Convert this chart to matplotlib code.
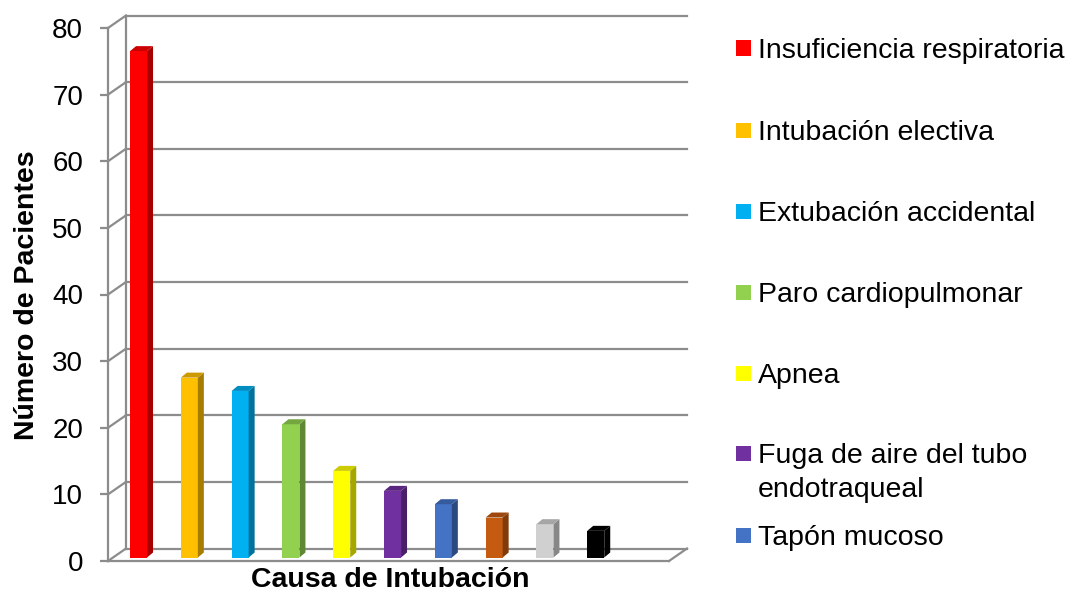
import matplotlib.pyplot as plt
from matplotlib.patches import Polygon, Rectangle
from matplotlib.colors import to_rgb

plt.rcParams['font.family'] = ['Liberation Sans', 'DejaVu Sans']

# Datos
causas = ['Insuficiencia respiratoria', 'Intubación electiva',
          'Extubación accidental', 'Paro cardiopulmonar', 'Apnea',
          'Fuga de aire del tubo\nendotraqueal', 'Tapón mucoso']
pacientes = [76, 27, 25, 20, 13, 10, 8, 6, 5, 4]
colores = ['#FF0000', '#FFC000', '#00B0F0', '#92D050', '#FFFF00',
           '#7030A0', '#4472C4', '#C55A11', '#D0D0D0', '#000000']
ticks_y = [0, 10, 20, 30, 40, 50, 60, 70, 80]


def darker(c, f=0.65):
    r, g, b = to_rgb(c)
    return (r * f, g * f, b * f)


W, H = 1077, 595
fig = plt.figure(figsize=(W / 100, H / 100), dpi=100)

# pixel geometry -> data scale
px_cat = 50.8          # pixels per category
px_val = 6.6625        # pixels per unit
x0_px = 133.5          # centre of first bar slot on the front plane
y0_px = 561            # value 0 on the front plane
ax_l, ax_r, ax_t, ax_b = 100, 700, 5, 585
ax = fig.add_axes([ax_l / W, 1 - ax_b / H, (ax_r - ax_l) / W, (ax_b - ax_t) / H])
ax.set_xlim((ax_l - x0_px) / px_cat, (ax_r - x0_px) / px_cat)
ax.set_ylim((y0_px - ax_b) / px_val, (y0_px - ax_t) / px_val)
ax.axis('off')

grid_c = '#8C8C8C'
lw = 1.6
# wall/floor depth
dx = 18 / px_cat
dy = 12.5 / px_val
xf_l = (108 - x0_px) / px_cat
xf_r = (669 - x0_px) / px_cat

# front value axis and ticks
ax.plot([xf_l, xf_l], [0, ticks_y[-1]], color=grid_c, lw=lw, zorder=1)
for t in ticks_y:
    ax.plot([xf_l - 8 / px_cat, xf_l], [t, t], color=grid_c, lw=lw, zorder=1)
    ax.plot([xf_l, xf_l + dx], [t, t + dy], color=grid_c, lw=lw, zorder=1)
    ax.plot([xf_l + dx, xf_r + dx], [t + dy, t + dy], color=grid_c, lw=lw, zorder=1)
    ax.text(xf_l - 25 / px_cat, t, str(t), ha='right', va='center_baseline', fontsize=20)
# left wall back edge
ax.plot([xf_l + dx, xf_l + dx], [dy, ticks_y[-1] + dy], color=grid_c, lw=lw, zorder=1)
# floor front edge and right edge
ax.plot([xf_l, xf_r], [0, 0], color=grid_c, lw=lw, zorder=1)
ax.plot([xf_r, xf_r + dx], [0, dy], color=grid_c, lw=lw, zorder=1)

# 3D-looking bars
bw = 17 / px_cat
bdx = 6 / px_cat
bdy = 5 / px_val
f = 0.28
for i, (v, c) in enumerate(zip(pacientes, colores)):
    xl = i - bw / 2 + f * dx
    yb = f * dy
    xr = xl + bw
    yt = yb + v
    ax.add_patch(Rectangle((xl, yb), bw, v, facecolor=c, edgecolor='none', zorder=3))
    ax.add_patch(Polygon([(xr, yb), (xr + bdx, yb + bdy), (xr + bdx, yt + bdy), (xr, yt)],
                         closed=True, facecolor=darker(c), edgecolor='none', zorder=3))
    ax.add_patch(Polygon([(xl, yt), (xl + bdx, yt + bdy), (xr + bdx, yt + bdy), (xr, yt)],
                         closed=True, facecolor=darker(c, 0.8), edgecolor='none', zorder=3))

fig.text(27 / W, 1 - 295 / H, 'Número de Pacientes', rotation=90, ha='center',
         va='center', fontsize=20.5, fontweight='bold')
fig.text(390 / W, 1 - 580 / H, 'Causa de Intubación', ha='center', va='center',
         fontsize=20.5, fontweight='bold')

# legend (only the entries that are visible)
leg_y = [48, 130, 211, 292, 373, 453, 535]
for lab, c, yy in zip(causas, colores, leg_y):
    fig.add_artist(Rectangle((736 / W, 1 - (yy + 7.5) / H), 15 / W, 15 / H,
                             facecolor=c, edgecolor='none', transform=fig.transFigure))
    fig.text(758 / W, 1 - (yy - 10) / H, lab, ha='left', va='top', fontsize=20.5,
             linespacing=1.4)

fig.savefig('out.png', dpi=100)
